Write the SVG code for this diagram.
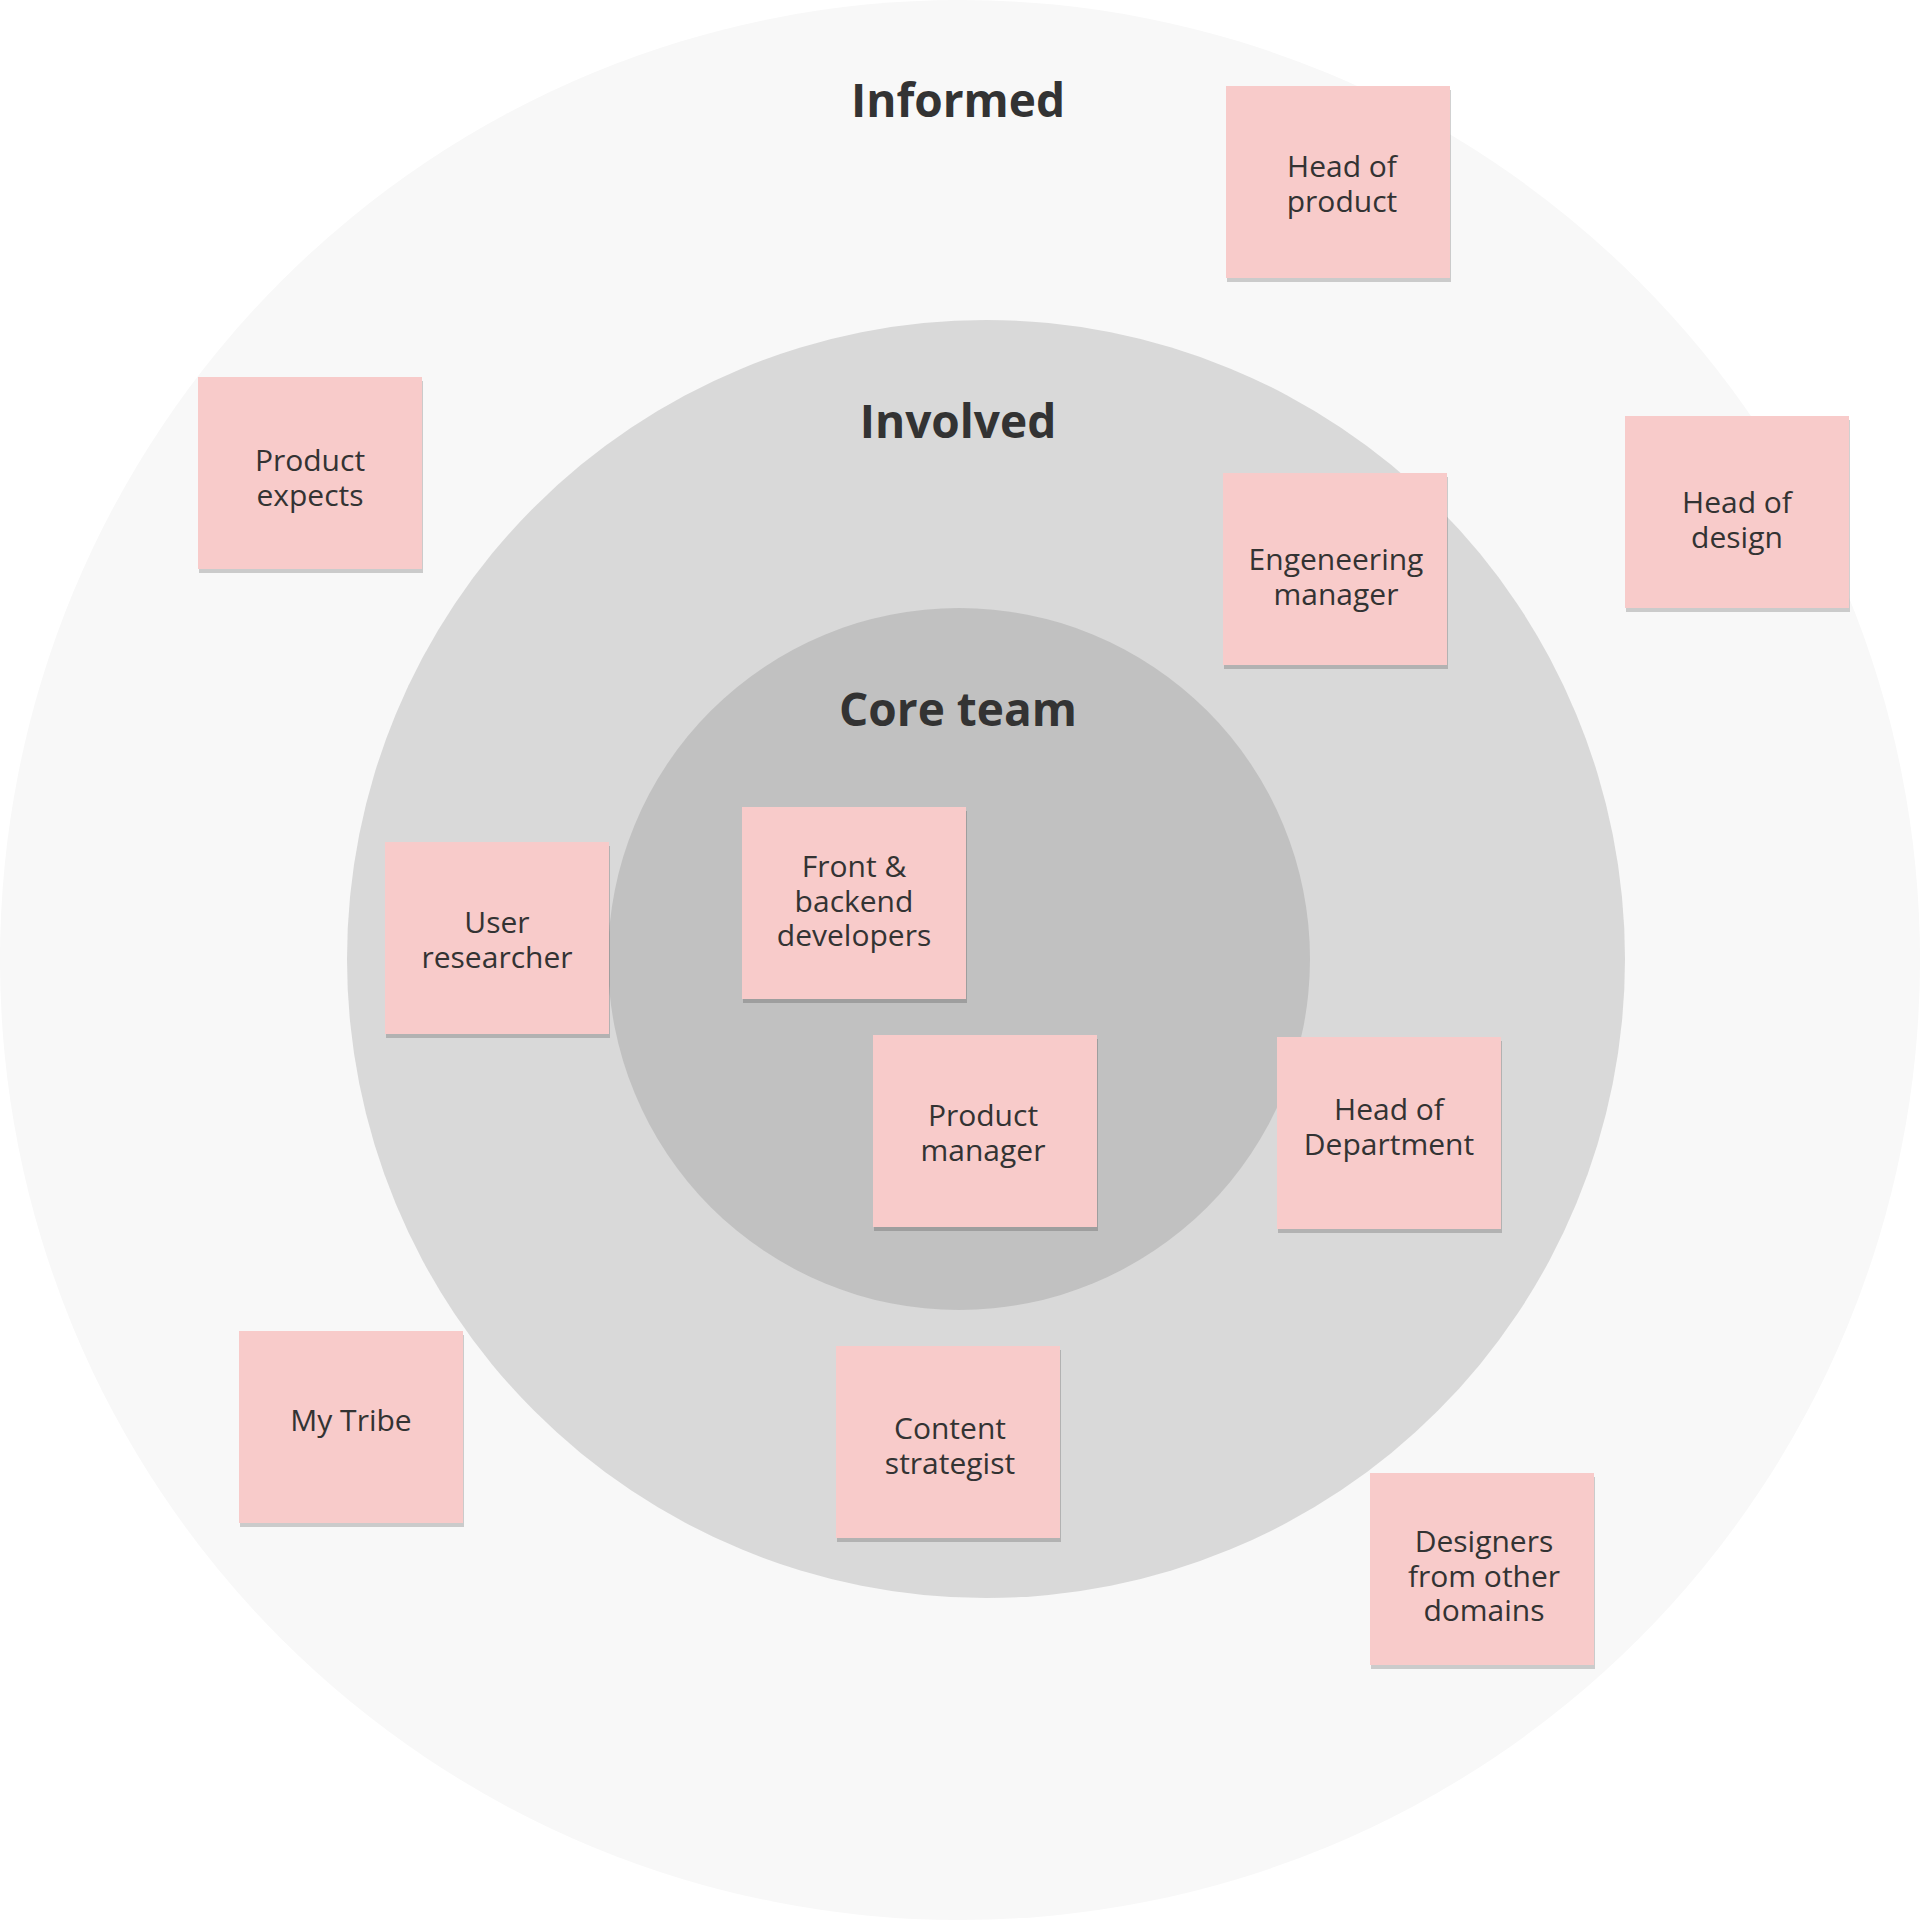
<svg xmlns="http://www.w3.org/2000/svg" width="1920" height="1920" viewBox="0 0 1920 1920">
<style>
.t{font-family:"Open Sans","Noto Sans",sans-serif;font-weight:bold;font-size:46px;fill:#333;text-anchor:middle}
.s{fill:#f8cbca}
.sh{fill:#000;opacity:0.18}
.l{font-family:"Open Sans","Noto Sans",sans-serif;font-size:30px;fill:#333;text-anchor:middle}
</style>
<rect width="1920" height="1920" fill="#fff"/>
<circle cx="960" cy="960" r="960" fill="#f8f8f8"/>
<circle cx="986" cy="959" r="639" fill="#d9d9d9"/>
<circle cx="959" cy="959" r="351" fill="#c1c1c1"/>
<text class="t" x="958" y="117">Informed</text>
<text class="t" x="958" y="438">Involved</text>
<text class="t" x="958" y="726">Core team</text>
<g id="n1"><rect class="sh" x="1227" y="90" width="224" height="192"/><rect class="s" x="1226" y="86" width="224" height="192"/><text class="l" x="1342" y="177">Head of</text><text class="l" x="1342" y="212">product</text></g>
<g id="n2"><rect class="sh" x="199" y="381" width="224" height="192"/><rect class="s" x="198" y="377" width="224" height="192"/><text class="l" x="310" y="471">Product</text><text class="l" x="310" y="506">expects</text></g>
<g id="n3"><rect class="sh" x="1626" y="420" width="224" height="192"/><rect class="s" x="1625" y="416" width="224" height="192"/><text class="l" x="1737" y="513">Head of</text><text class="l" x="1737" y="548">design</text></g>
<g id="n4"><rect class="sh" x="1224" y="477" width="224" height="192"/><rect class="s" x="1223" y="473" width="224" height="192"/><text class="l" x="1336" y="570">Engeneering</text><text class="l" x="1336" y="605">manager</text></g>
<g id="n5"><rect class="sh" x="386" y="846" width="224" height="192"/><rect class="s" x="385" y="842" width="224" height="192"/><text class="l" x="497" y="933">User</text><text class="l" x="497" y="968">researcher</text></g>
<g id="n6"><rect class="sh" x="743" y="811" width="224" height="192"/><rect class="s" x="742" y="807" width="224" height="192"/><text class="l" x="854" y="877">Front &amp;</text><text class="l" x="854" y="912">backend</text><text class="l" x="854" y="946">developers</text></g>
<g id="n7"><rect class="sh" x="874" y="1039" width="224" height="192"/><rect class="s" x="873" y="1035" width="224" height="192"/><text class="l" x="983" y="1126">Product</text><text class="l" x="983" y="1161">manager</text></g>
<g id="n8"><rect class="sh" x="1278" y="1041" width="224" height="192"/><rect class="s" x="1277" y="1037" width="224" height="192"/><text class="l" x="1389" y="1120">Head of</text><text class="l" x="1389" y="1155">Department</text></g>
<g id="n9"><rect class="sh" x="240" y="1335" width="224" height="192"/><rect class="s" x="239" y="1331" width="224" height="192"/><text class="l" x="351" y="1431">My Tribe</text></g>
<g id="n10"><rect class="sh" x="837" y="1350" width="224" height="192"/><rect class="s" x="836" y="1346" width="224" height="192"/><text class="l" x="950" y="1439">Content</text><text class="l" x="950" y="1474">strategist</text></g>
<g id="n11"><rect class="sh" x="1371" y="1477" width="224" height="192"/><rect class="s" x="1370" y="1473" width="224" height="192"/><text class="l" x="1484" y="1552">Designers</text><text class="l" x="1484" y="1587">from other</text><text class="l" x="1484" y="1621">domains</text></g>
<g id="connectors"/>
</svg>
